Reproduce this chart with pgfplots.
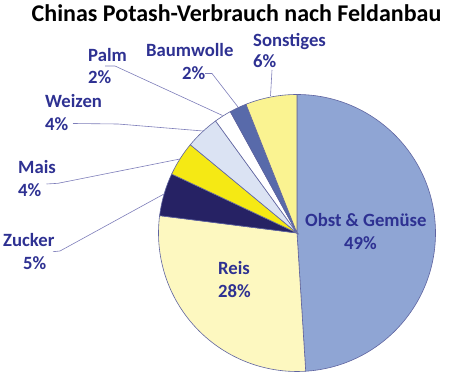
\documentclass[border=0pt]{standalone}
\usepackage{pgfplots}
\usepackage{pgfplotstable}
\pgfplotsset{compat=1.18}
\usepackage{fontspec}
\setmainfont{Carlito}
\definecolor{slice0}{RGB}{143,165,212}
\definecolor{slice1}{RGB}{253,248,192}
\definecolor{slice2}{RGB}{38,34,100}
\definecolor{slice3}{RGB}{245,233,20}
\definecolor{slice4}{RGB}{219,227,243}
\definecolor{slice5}{RGB}{255,255,255}
\definecolor{slice6}{RGB}{88,106,170}
\definecolor{slice7}{RGB}{250,243,145}
\definecolor{edgec}{RGB}{95,100,160}
\definecolor{leadc}{RGB}{125,125,185}
\definecolor{labc}{RGB}{46,49,146}
\pgfplotstableread{
label value
Obst 49
Reis 28
Zucker 5
Mais 4
Weizen 4
Palm 2
Baumwolle 2
Sonstiges 6
}\piedata
\newcommand\pieslice[3]{\fill[fill=slice#1, draw=edgec, line width=0.6pt] (axis cs:297,150) -- ++(#2:138.5pt) arc[start angle=#2, end angle=#3, radius=138.5pt] -- cycle;}
\gdef\cum{0}
\gdef\wedges{}
\newcommand\addslice[1]{%
  \pgfplotstablegetelem{#1}{value}\of\piedata
  \pgfmathsetmacro\newcum{\cum+\pgfplotsretval}%
  \pgfmathsetmacro\sa{90-3.6*\cum}%
  \pgfmathsetmacro\ea{90-3.6*\newcum}%
  \xdef\wedges{\wedges\noexpand\pieslice{#1}{\sa}{\ea}}%
  \global\let\cum\newcum
}
\begin{document}
\addslice{0}\addslice{1}\addslice{2}\addslice{3}%
\addslice{4}\addslice{5}\addslice{6}\addslice{7}%
\begin{tikzpicture}
\begin{axis}[
  at={(0,0)}, anchor=south west,
  width=458pt, height=383pt, scale only axis,
  xmin=0, xmax=458, ymin=0, ymax=383,
  hide axis, clip=false,
]
\wedges
% leader lines
\draw[leadc, line width=0.6pt] (axis cs:272,313) -- (axis cs:270.5,287);
\draw[leadc, line width=0.6pt] (axis cs:205,309.5) -- (axis cs:212,309.5) -- (axis cs:238,276);
\draw[leadc, line width=0.6pt] (axis cs:105,317) -- (axis cs:115,317) -- (axis cs:222.5,267.5);
\draw[leadc, line width=0.6pt] (axis cs:73,259.5) -- (axis cs:118,259) -- (axis cs:203,252);
\draw[leadc, line width=0.6pt] (axis cs:46.5,199) -- (axis cs:58,199.7) -- (axis cs:180,224);
\draw[leadc, line width=0.6pt] (axis cs:53,131.3) -- (axis cs:60,132) -- (axis cs:164,189);
% labels
\begin{scope}[every node/.style={inner sep=0pt, text=labc, font=\fontsize{18.7}{22}\selectfont\bfseries}]
\node[anchor=base west] at (axis cs:253,336.3) {Sonstiges};
\node[anchor=base west] at (axis cs:253,315) {6\%};
\node[anchor=base west] at (axis cs:146,326) {Baumwolle};
\node[anchor=base west] at (axis cs:182,303) {2\%};
\node[anchor=base west] at (axis cs:88,321) {Palm};
\node[anchor=base west] at (axis cs:88,299) {2\%};
\node[anchor=base west] at (axis cs:45,275) {Weizen};
\node[anchor=base west] at (axis cs:45,252) {4\%};
\node[anchor=base west] at (axis cs:18,209) {Mais};
\node[anchor=base west] at (axis cs:18,186) {4\%};
\node[anchor=base west] at (axis cs:3,136) {Zucker};
\node[anchor=base west] at (axis cs:23,113) {5\%};
\node[anchor=base west] at (axis cs:305,156) {Obst \& Gemüse};
\node[anchor=base west] at (axis cs:344,133) {49\%};
\node[anchor=base west] at (axis cs:218,108) {Reis};
\node[anchor=base west] at (axis cs:218,85) {28\%};
\end{scope}
\node[anchor=base, inner sep=0pt, font=\fontsize{24}{28}\selectfont\bfseries] at (axis cs:236.5,361) {Chinas Potash-Verbrauch nach Feldanbau};
\end{axis}
\pgfresetboundingbox
\useasboundingbox (0,0) rectangle (458pt,383pt);
\end{tikzpicture}
\end{document}
